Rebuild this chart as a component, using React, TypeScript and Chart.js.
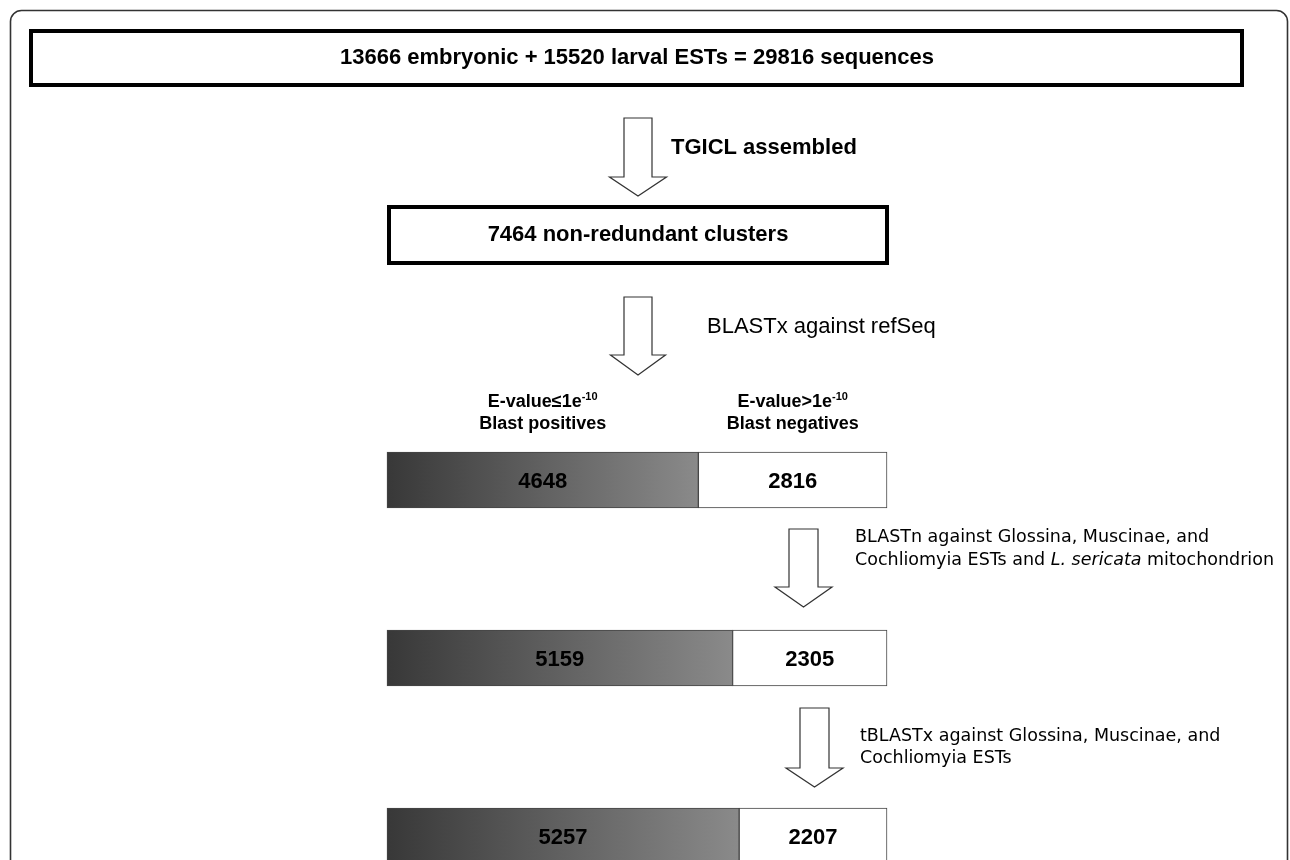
import React, { useEffect, useRef } from 'react';
import { Chart, registerables } from 'chart.js';

Chart.register(...registerables);

// ---- data ----
const stageLabels = ['BLASTx vs refSeq', 'BLASTn vs ESTs + mito', 'tBLASTx vs ESTs'];
const positives = [4648, 5159, 5257];
const negatives = [2816, 2305, 2207];
const totalClusters = 7464;

// ---- texts ----
const titleText = '13666 embryonic + 15520 larval ESTs = 29816 sequences';
const clusterText = '7464 non-redundant clusters';
const step1Text = 'TGICL assembled';
const step2Text = 'BLASTx against refSeq';
const step3Line1 = 'BLASTn against Glossina, Muscinae, and';
const step3Line2 = ['Cochliomyia ESTs and ', 'L. sericata', ' mitochondrion'];
const step4Lines = ['tBLASTx against Glossina, Muscinae, and', 'Cochliomyia ESTs'];
const headerMain = ['E-value\u22641e', 'E-value>1e'];
const headerSup = '-10';
const headerSub = ['Blast positives', 'Blast negatives'];

const SANS = '"Liberation Sans", Arial, sans-serif';
const VERD = '"DejaVu Sans", Verdana, sans-serif';

function drawArrow(c: CanvasRenderingContext2D, cx: number, top: number, headTop: number, tip: number, shaftW: number, headW: number) {
  c.save();
  c.beginPath();
  c.moveTo(cx - shaftW / 2, top);
  c.lineTo(cx + shaftW / 2, top);
  c.lineTo(cx + shaftW / 2, headTop);
  c.lineTo(cx + headW / 2, headTop);
  c.lineTo(cx, tip);
  c.lineTo(cx - headW / 2, headTop);
  c.lineTo(cx - shaftW / 2, headTop);
  c.closePath();
  c.fillStyle = '#ffffff';
  c.fill();
  c.lineWidth = 1.2;
  c.strokeStyle = '#333333';
  c.lineJoin = 'miter';
  c.stroke();
  c.restore();
}

const flowPlugin = {
  id: 'flow',
  afterDraw(chart: any) {
    const c: CanvasRenderingContext2D = chart.ctx;
    c.save();
    // outer rounded frame
    c.beginPath();
    (c as any).roundRect(10.5, 10.5, 1277, 900, 11);
    c.lineWidth = 1.6;
    c.strokeStyle = '#333333';
    c.stroke();

    // top box
    c.lineWidth = 4;
    c.strokeStyle = '#000000';
    c.strokeRect(31, 31, 1211, 54);
    c.fillStyle = '#000000';
    c.font = `bold 22px ${SANS}`;
    c.textAlign = 'center';
    c.textBaseline = 'middle';
    c.fillText(titleText, 637, 58);

    // arrow 1
    drawArrow(c, 638, 118, 177, 196, 28, 57);
    c.textAlign = 'left';
    c.font = `bold 22px ${SANS}`;
    c.fillText(step1Text, 671, 148);

    // clusters box
    c.lineWidth = 4;
    c.strokeStyle = '#000000';
    c.strokeRect(389, 207, 498, 56);
    c.textAlign = 'center';
    c.fillText(clusterText, 638, 235);

    // arrow 2
    drawArrow(c, 638, 297, 355, 375, 28, 55);
    c.textAlign = 'left';
    c.font = `22px ${SANS}`;
    c.fillText(step2Text, 707, 327);

    // arrow 3
    drawArrow(c, 803.5, 529, 587, 607, 29, 57);
    c.font = `17.5px ${VERD}`;
    c.fillText(step3Line1, 855, 537);
    let x = 855;
    const y2 = 560;
    c.fillText(step3Line2[0], x, y2);
    x += c.measureText(step3Line2[0]).width;
    c.font = `italic 17.5px ${VERD}`;
    c.fillText(step3Line2[1], x, y2);
    x += c.measureText(step3Line2[1]).width;
    c.font = `17.5px ${VERD}`;
    c.fillText(step3Line2[2], x, y2);

    // arrow 4
    drawArrow(c, 814.5, 708, 768, 787, 29, 57);
    c.fillText(step4Lines[0], 860, 736);
    c.fillText(step4Lines[1], 860, 758);
    c.restore();
  },
  afterDatasetsDraw(chart: any) {
    const c: CanvasRenderingContext2D = chart.ctx;
    c.save();
    c.fillStyle = '#000000';
    c.textAlign = 'center';
    c.textBaseline = 'middle';
    const metas = [chart.getDatasetMeta(0), chart.getDatasetMeta(1)];
    metas.forEach((meta: any, di: number) => {
      const values = di === 0 ? positives : negatives;
      meta.data.forEach((el: any, j: number) => {
        const p = el.getProps(['x', 'y', 'base'], true);
        const cx = (p.x + p.base) / 2;
        c.font = `bold 22px ${SANS}`;
        c.fillText(String(values[j]), cx, p.y + 2);
        if (j === 0) {
          // headers above first bar
          const top = p.y - 27.5;
          c.font = `bold 18px ${SANS}`;
          const wMain = c.measureText(headerMain[di]).width;
          c.font = `bold 11px ${SANS}`;
          const wSup = c.measureText(headerSup).width;
          const start = cx - (wMain + wSup) / 2;
          c.textAlign = 'left';
          c.font = `bold 18px ${SANS}`;
          c.fillText(headerMain[di], start, top - 50);
          c.font = `bold 11px ${SANS}`;
          c.fillText(headerSup, start + wMain, top - 56);
          c.textAlign = 'center';
          c.font = `bold 18px ${SANS}`;
          c.fillText(headerSub[di], cx, top - 28);
        }
      });
    });
    c.restore();
  },
};

export default function App() {
  const ref = useRef<HTMLCanvasElement | null>(null);
  useEffect(() => {
    if (!ref.current) return;
    const chart = new Chart(ref.current, {
      type: 'bar',
      data: {
        labels: stageLabels,
        datasets: [
          {
            label: 'Blast positives',
            data: positives,
            backgroundColor: (ctx: any) => {
              const ch = ctx.chart;
              const sx = ch.scales && ch.scales.x;
              if (!ch.chartArea || !sx || ctx.raw == null) return '#666666';
              const x0 = sx.getPixelForValue(0);
              const x1 = sx.getPixelForValue(ctx.raw);
              const g = ch.ctx.createLinearGradient(x0, 0, x1, 0);
              g.addColorStop(0, '#383838');
              g.addColorStop(1, '#8a8a8a');
              return g;
            },
            borderColor: '#444444',
            borderWidth: 1,
            borderSkipped: false,
            barThickness: 56,
            clip: false as any,
          },
          {
            label: 'Blast negatives',
            data: negatives,
            backgroundColor: '#ffffff',
            borderColor: '#444444',
            borderWidth: 1,
            borderSkipped: false,
            barThickness: 56,
            clip: false as any,
          },
        ],
      },
      options: {
        indexAxis: 'y',
        animation: false,
        responsive: false,
        maintainAspectRatio: false,
        layout: { padding: { left: 387, right: 403, top: 480, bottom: 24 } },
        scales: {
          x: { type: 'linear', stacked: true, min: 0, max: totalClusters, display: false },
          y: { type: 'category', stacked: true, offset: false, display: false },
        },
        plugins: {
          legend: { display: false },
          tooltip: { enabled: false },
          title: { display: false },
        },
      },
      plugins: [flowPlugin],
    });
    return () => chart.destroy();
  }, []);
  return (
    <div style={{ position: 'fixed', left: 0, top: 0, width: 1290, height: 860, background: '#ffffff' }}>
      <canvas ref={ref} width={1290} height={860} style={{ width: 1290, height: 860, display: 'block' }} />
    </div>
  );
}
